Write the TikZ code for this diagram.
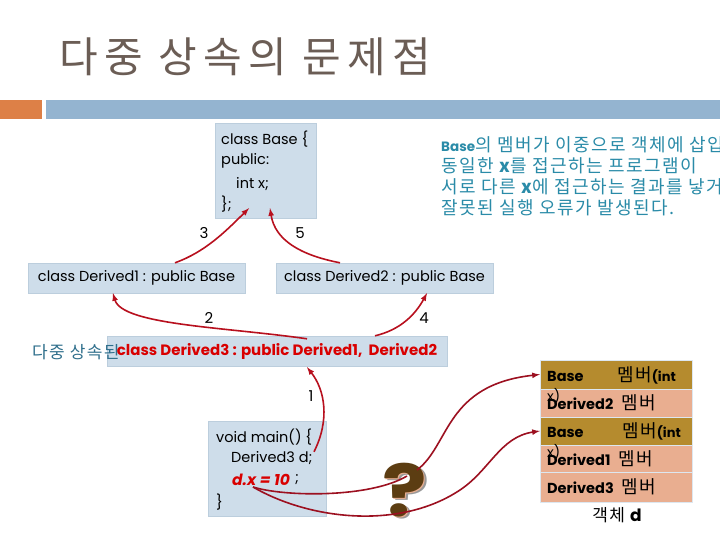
\documentclass[tikz,border=0pt]{standalone}
\usepackage{fontspec}
\setmainfont{Poppins}
\newfontfamily\latfont{Poppins}
\newfontfamily\krfont{Noto Sans CJK KR}
\newfontfamily\krwide[LetterSpace=8]{Noto Sans CJK KR}
\newfontfamily\krtitle[LetterSpace=15]{Noto Sans CJK KR}
\definecolor{boxblue}{HTML}{CEDDEA}
\definecolor{boxline}{HTML}{BCCEDD}
\definecolor{barblue}{HTML}{94B4D0}
\definecolor{barorange}{HTML}{DD8047}
\definecolor{titlebrown}{HTML}{6B5D55}
\definecolor{noteblue}{HTML}{2A8BA8}
\definecolor{labelblue}{HTML}{2F6F8C}
\definecolor{membergold}{HTML}{B58B2E}
\definecolor{membersalmon}{HTML}{E9AE90}
\definecolor{arrowred}{HTML}{B8101E}
\definecolor{arrowdark}{HTML}{9C1020}
\definecolor{qbrown}{HTML}{5C3D12}
\tikzset{
  codebox/.style={draw=boxline, fill=boxblue, inner sep=0pt, font=\fontsize{14.5}{20}\selectfont},
  codetext/.style={anchor=west, inner sep=0pt, font=\fontsize{14.5}{20}\selectfont},
  member/.style={draw=boxblue!70!white, minimum width=152pt, inner sep=0pt},
  membertext/.style={anchor=west, inner sep=0pt, font=\fontsize{14.5}{20}\selectfont\bfseries},
  numlabel/.style={inner sep=0pt, font=\fontsize{15}{18}\selectfont},
  qmark/.style={inner sep=0pt, transform shape, xscale=1.15, font=\fontsize{72}{72}\selectfont\bfseries},
  calls/.style={draw=arrowred, line width=1.6pt, -{latex}},
  hits/.style={draw=arrowdark, line width=1.6pt, -{latex}},
}
\newcommand{\memberkr}{{\krwide\mdseries\fontsize{18}{20}\selectfont 멤버}}
\newcommand{\memberint}{{\latfont\fontsize{13}{20}\selectfont (\textbf{int}}}
\begin{document}
\begin{tikzpicture}[x=1pt, y=-1pt]
  \useasboundingbox (0,0) rectangle (720,540);
  \fill[white] (0,0) rectangle (720,540);
  % title and bars
  \node[anchor=west, inner sep=0pt, text=titlebrown, font=\krtitle\fontsize{42}{44}\selectfont] (title) at (59,57) {다중 상속의 문제점};
  \fill[barorange] (0,100) rectangle (42,119);
  \fill[barblue] (46,100) rectangle (720,119);

  % classes
  \node[codebox, minimum width=101pt, minimum height=95pt] (base) at (265.5,170.5) {};
  \node[codetext] (baseA) at (221,139) {class Base \{};
  \node[codetext] (baseB) at (221,161) {public:};
  \node[codetext] (baseC) at (236,184) {int x;};
  \node[codetext] (baseD) at (221,204) {\};};
  \node[codebox, minimum width=217pt, minimum height=30pt] (derivedA) at (136.5,278) {class Derived1 : public Base};
  \node[codebox, minimum width=217pt, minimum height=30pt] (derivedB) at (384.5,278) {class Derived2 : public Base};
  \node[codebox, minimum width=340pt, minimum height=30pt] (derivedC) at (277,351) {};
  \node[anchor=west, inner sep=0pt, text=labelblue, font=\krwide\fontsize{17}{18}\selectfont] (multi) at (32,352) {다중 상속된};
  \node[inner sep=0pt, text=red!85!black, font=\fontsize{15}{20}\selectfont\bfseries] (derivedCtext) at (277,351) {class Derived3 : public Derived1,\ \ Derived2};

  % note on the right
  \node[anchor=north west, inner sep=0pt, align=left, text=noteblue, font=\krwide\fontsize{18}{21}\selectfont] (note) at (441,136) {{\latfont\fontsize{13.5}{21}\selectfont\bfseries Base}의 멤버가 이중으로 객체에 삽입\\동일한 {\bfseries x}를 접근하는 프로그램이\\서로 다른 {\bfseries x}에 접근하는 결과를 낳거\\잘못된 실행 오류가 발생된다.};

  % main
  \node[codebox, minimum width=118pt, minimum height=95pt] (main) at (267,468.5) {};
  \node[codetext] (mainA) at (216,437) {void main() \{};
  \node[codetext] (mainB) at (231,458) {Derived3 d;};
  \node[codetext, text=red!85!black, font=\fontsize{15.5}{20}\selectfont\bfseries\itshape] (mainC) at (232,480) {d.x = 10};
  \node[codetext] (mainE) at (295,480) {;};
  \node[codetext] (mainD) at (216,502) {\}};

  % object layout
  \node[member, fill=membergold, minimum height=29pt] (rowA) at (616,374.5) {};
  \node[member, fill=membersalmon, minimum height=28pt] (rowB) at (616,403) {};
  \node[member, fill=membergold, minimum height=28pt] (rowC) at (616,431) {};
  \node[member, fill=membersalmon, minimum height=27pt] (rowD) at (616,458.5) {};
  \node[member, fill=membersalmon, minimum height=30pt] (rowE) at (616,487) {};
  \node[membertext] (rowAa) at (547,376) {Base};
  \node[membertext] (rowAb) at (617,375) {\memberkr\memberint};
  \node[codetext, font=\fontsize{14}{20}\selectfont] (rowAc) at (547,396) {x)};
  \node[membertext] (rowBa) at (547,403) {Derived2\hspace{8pt}\memberkr};
  \node[membertext] (rowCa) at (547,432) {Base};
  \node[membertext] (rowCb) at (622,431) {\memberkr\memberint};
  \node[codetext, font=\fontsize{14}{20}\selectfont] (rowCc) at (547,452) {x)};
  \node[membertext] (rowDa) at (547,459) {Derived1\hspace{8pt}\memberkr};
  \node[membertext] (rowEa) at (547,487) {Derived3\hspace{8pt}\memberkr};
  \node[inner sep=0pt, font=\krwide\fontsize{17}{20}\selectfont] (object) at (617,515) {객체 {\latfont\bfseries d}};

  % question mark
  \node[qmark, text=black!40] (shade) at (408,492) {?};
  \node[qmark, text=membersalmon] (rim) at (406,491) {?};
  \node[qmark, text=qbrown] (quest) at (405,490) {?};

  % numbers
  \node[numlabel] (numA) at (204,233) {3};
  \node[numlabel] (numB) at (300,233) {5};
  \node[numlabel] (numC) at (209,318) {2};
  \node[numlabel] (numD) at (424,318) {4};
  \node[numlabel] (numE) at (311,396) {1};

  % arrows
  \coordinate (hitA) at ([xshift=2pt,yshift=14pt]quest.center);
  \coordinate (hitB) at ([xshift=12pt,yshift=20pt]quest.center);
  \coordinate (fromX) at ([xshift=21pt,yshift=-7pt]mainC.west);
  \draw[calls] ([xshift=38.5pt]derivedA.north) .. controls (205,252) and (225,232) .. ([xshift=-16.5pt,yshift=10pt]base.south);
  \draw[calls] ([xshift=-44.5pt]derivedB.north) .. controls (300,255) and (275,240) .. ([xshift=4.5pt,yshift=10pt]base.south);
  \draw[calls] ([xshift=30pt,yshift=-3pt]derivedC.north) .. controls (225,327) and (122,325) .. ([xshift=-23.5pt]derivedA.south);
  \draw[calls] ([xshift=98pt]derivedC.north) .. controls (400,330) and (415,315) .. ([xshift=42.5pt]derivedB.south);
  \draw[calls] ([xshift=47pt,yshift=-31pt]main.north) .. controls (330,420) and (325,390) .. ([xshift=30pt,yshift=-1pt]derivedC.south);
  \draw[hits, -] (fromX) .. controls (285,497) and (370,498) .. (hitA);
  \draw[hits] (hitB) .. controls (450,445) and (445,385) .. (rowA.west);
  \draw[hits] (fromX) .. controls (310,520) and (400,530) .. (460,490) .. controls (490,470) and (500,437) .. (rowC.west);
\end{tikzpicture}
\end{document}
